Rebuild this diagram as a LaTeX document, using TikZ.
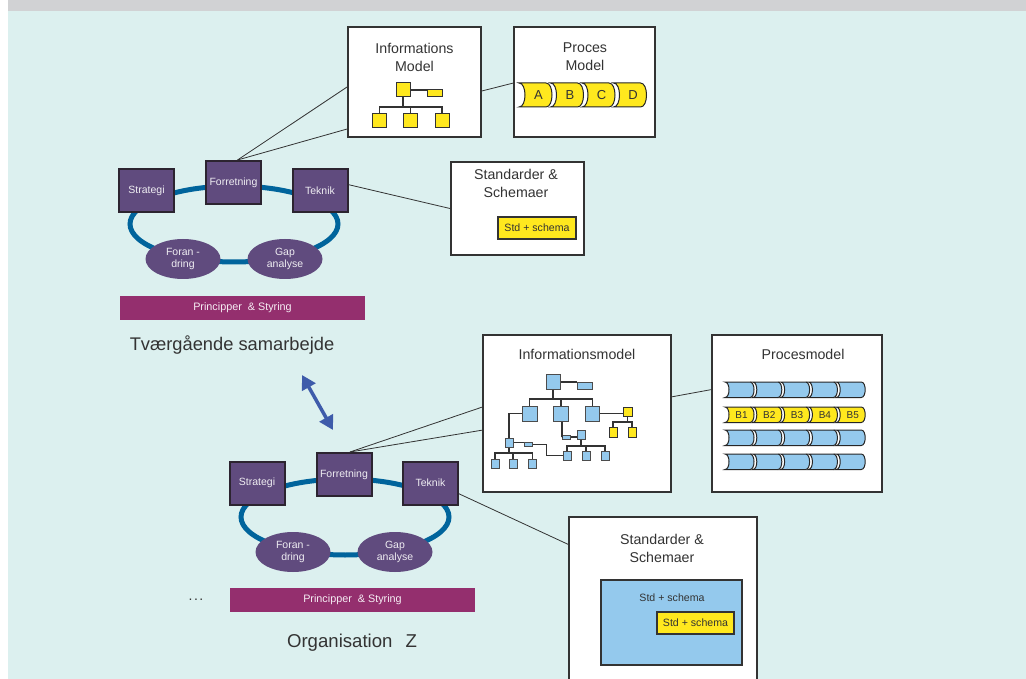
\documentclass[tikz,border=0pt]{standalone}
\usepackage{fontspec}
\setmainfont{Liberation Sans}
\usetikzlibrary{arrows.meta,calc,shapes.geometric}

\definecolor{bgcyan}{HTML}{DCF0EF}
\definecolor{topgray}{HTML}{D1D2D4}
\definecolor{plum}{HTML}{604B7E}
\definecolor{plumedge}{HTML}{2C2430}
\definecolor{ringblue}{HTML}{00649C}
\definecolor{barmag}{HTML}{942F6E}
\definecolor{ylw}{HTML}{FFE81E}
\definecolor{lblue}{HTML}{94C9ED}
\definecolor{arrblue}{HTML}{3E5BAA}
\definecolor{ink}{HTML}{333333}

% one barrel-shaped process step: #1 left x, #2 top y, #3 width, #4 height, #5 curve depth, #6 fill
\newcommand\procseg[6]{%
  \path[draw=black!85, line width=1pt, fill=#6]
    (#1,#2) -- ({#1+#3-#5},#2)
    .. controls ({#1+#3+#5/3},#2) and ({#1+#3+#5/3},{#2+#4}) .. ({#1+#3-#5},{#2+#4})
    -- (#1,{#2+#4})
    .. controls ({#1+4*#5/3},{#2+#4}) and ({#1+4*#5/3},#2) .. (#1,#2) -- cycle;}

\tikzset{
  panel/.style={draw=ink, line width=2pt, fill=white, inner sep=0pt},
  title/.style={text=ink, align=center, font=\fontsize{14.2}{18}\selectfont},
  role/.style={draw=plumedge, fill=plum, line width=2pt, text=white!90!plum,
    minimum width=55pt, minimum height=43pt, inner sep=0pt,
    font=\fontsize{10.5}{12}\selectfont},
  phase/.style={ellipse, fill=plum, text=white!90!plum, minimum width=75pt,
    minimum height=40pt, inner sep=0pt, align=center,
    font=\fontsize{10.5}{12.5}\selectfont},
  ring/.style={ellipse, draw=ringblue, line width=5pt, minimum width=208pt,
    minimum height=76pt, inner sep=0pt},
  govbar/.style={fill=barmag, text=white!92!barmag, minimum width=245pt,
    minimum height=24pt, inner sep=0pt, font=\fontsize{10.8}{12}\selectfont},
  conn/.style={draw=ink, line width=0.8pt},
  link/.style={draw=ink, line width=1.1pt},
  ysq/.style={draw=ink, fill=ylw, line width=1pt, inner sep=0pt},
  bsq/.style={draw=black!70, fill=lblue, line width=1pt, inner sep=0pt},
  chip/.style={draw=ink, fill=ylw, line width=1.2pt, inner sep=0pt,
    text=ink, font=\fontsize{10.6}{12}\selectfont},
  seglabel/.style={text=ink, inner sep=0pt},
}

\begin{document}
\begin{tikzpicture}[x=1pt, y=-1pt]
\useasboundingbox (0,0) rectangle (1026,679);
\clip (0,0) rectangle (1026,679);

% backdrop
\fill[white] (0,0) rectangle (1026,679);
\fill[bgcyan] (8,11) rectangle (1026,679);
\fill[topgray] (8,0) rectangle (1026,11);

% ---------- upper organisation ----------
\node[ring] (ring1) at (234,224) {};
\node[role] (strat1) at (146.5,190.5) {Strategi};
\node[role] (forr1) at (233.5,182.5) {Forretning};
\node[role] (tek1) at (320,190.5) {Teknik};
\node[phase] (foran1) at (183,259) {Foran -\\dring};
\node[phase] (gap1) at (285,259) {Gap\\analyse};
\node[govbar] (bar1) at (242.5,308) {Principper ~\& Styring};
\node[text=ink, font=\fontsize{18.3}{22}\selectfont] (org1) at (232,345) {Tværgående samarbejde};

% information model (upper)
\node[panel, minimum width=133pt, minimum height=110pt] (infoA) at (414.5,82) {};
\node[title] (infoAt) at (414.5,57) {Informations\\Model};
\node[ysq, minimum width=14pt, minimum height=14pt] (t0) at (403,90) {};
\node[ysq, minimum width=15pt, minimum height=7pt] (t0r) at (434.5,93.5) {};
\node[ysq, minimum width=14pt, minimum height=14pt] (t1) at (379.5,121) {};
\node[ysq, minimum width=14pt, minimum height=14pt] (t2) at (410.5,121) {};
\node[ysq, minimum width=14pt, minimum height=14pt] (t3) at (442,121) {};
\coordinate (busA) at (0,107);
\draw[link] (t0.east) -- (t0.east -| t0r.west);
\draw[link] (t0.south) -- (t0.south |- busA);
\draw[link] (t1.north) -- (t1.north |- busA) -| (t3.north);
\draw[link] (t2.north) -- (t2.north |- busA);

% process model (upper)
\node[panel, minimum width=141pt, minimum height=110pt] (procA) at (584.5,82) {};
\node[title] (procAt) at (585,57) {Proces\\Model};
\foreach \lbl [count=\i from 0] in {A,B,C,D}{
  \pgfmathsetmacro\xa{519+31.5*\i}
  \procseg{\xa}{83}{33}{24}{6}{ylw}
  \node[seglabel, font=\fontsize{13}{15}\selectfont] (pa\lbl) at (\xa+19.5,95) {\lbl};
}

% standards (upper)
\node[panel, minimum width=133pt, minimum height=93pt] (stdA) at (517.5,208.5) {};
\node[title] (stdAt) at (516,183.5) {Standarder \&\\Schemaer};
\node[chip, minimum width=78pt, minimum height=22pt] (chipA) at (537,228) {Std + schema};

% connectors (upper)
\draw[conn] ($(forr1.north)+(4,0)$) -- ($(infoA.north west)!0.545!(infoA.south west)$);
\draw[conn] ($(forr1.north)+(4,0)$) -- ($(infoA.north west)!0.92!(infoA.south west)$);
\draw[conn] ($(infoA.north east)!0.58!(infoA.south east)$) -- ($(procA.north west)!0.51!(procA.south west)$);
\draw[conn] ($(tek1.north east)!0.37!(tek1.south east)$) -- (stdA.west);

% link between the two organisations
\coordinate (arrA) at (302,375);
\coordinate (arrB) at (333,430);
\draw[arrblue, line width=3.5pt, {Triangle[length=14pt,width=15pt]}-{Triangle[length=14pt,width=15pt]}] (arrA) -- (arrB);

% ---------- lower organisation ----------
\node[ring] (ring2) at (345,517) {};
\node[role] (strat2) at (257,483) {Strategi};
\node[role] (forr2) at (344,474.5) {Forretning};
\node[role] (tek2) at (430.5,483) {Teknik};
\node[phase] (foran2) at (293,552) {Foran -\\dring};
\node[phase] (gap2) at (395,552) {Gap\\analyse};
\node[govbar] (bar2) at (352.5,600) {Principper ~\& Styring};
\node[text=ink, font=\fontsize{14}{16}\selectfont] (more) at (196,600) {.\hspace{1.5pt}.\hspace{1.5pt}.};
\node[text=ink, font=\fontsize{18.6}{22}\selectfont] (org2) at (352,643) {Organisation\hspace{0.7em}Z};

% information model (lower)
\node[panel, minimum width=188pt, minimum height=157pt] (infoB) at (577,413.5) {};
\node[title] (infoBt) at (577,354) {Informationsmodel};
\node[bsq, minimum width=14pt, minimum height=15pt] (b0) at (553,381.5) {};
\node[bsq, minimum width=15pt, minimum height=7pt] (b0r) at (584.5,386) {};
\node[bsq, minimum width=15pt, minimum height=15pt] (b1) at (529.5,413.5) {};
\node[bsq, minimum width=15pt, minimum height=15pt] (b2) at (561,413.5) {};
\node[bsq, minimum width=14pt, minimum height=15pt] (b3) at (592.5,413.5) {};
\node[ysq, minimum width=9pt, minimum height=9pt] (y0) at (627.5,411.5) {};
\node[ysq, minimum width=8pt, minimum height=10pt] (y1) at (613,432) {};
\node[ysq, minimum width=8pt, minimum height=10pt] (y2) at (632,432) {};
\node[bsq, minimum width=8pt, minimum height=9pt] (c0) at (509,442.5) {};
\node[bsq, minimum width=8pt, minimum height=4pt] (c1) at (566,437) {};
\node[bsq, minimum width=8pt, minimum height=9pt] (c2) at (581,434.5) {};
\node[bsq, minimum width=8pt, minimum height=4pt] (c3) at (528,444.5) {};
\node[bsq, minimum width=8pt, minimum height=9pt] (d1) at (567,455.5) {};
\node[bsq, minimum width=8pt, minimum height=9pt] (d2) at (586,455.5) {};
\node[bsq, minimum width=8pt, minimum height=9pt] (d3) at (605,455.5) {};
\node[bsq, minimum width=8pt, minimum height=9pt] (e1) at (495,463.5) {};
\node[bsq, minimum width=8pt, minimum height=9pt] (e2) at (513,463.5) {};
\node[bsq, minimum width=8pt, minimum height=9pt] (e3) at (532.5,463.5) {};
\coordinate (busB) at (0,399);
\coordinate (busY) at (0,422);
\coordinate (busD) at (0,446);
\coordinate (busE) at (0,453);
\draw[link] (b0.east |- b0r.north west) -- (b0r.north west);
\draw[link] (b0.south) -- (b0.south |- busB);
\draw[link] (b1.north) -- (b1.north |- busB) -| (b3.north);
\draw[link] (b2.north) -- (b2.north |- busB);
\draw[link] (b3.east) -- (b3.east -| y0.west);
\draw[link] (y0.south) -- (y0.south |- busY);
\draw[link] (y1.north) -- (y1.north |- busY) -| (y2.north);
\draw[link] (b1.west) -| (c0.north);
\draw[link] ($(b2.south)+(1,0)$) |- (c1.west);
\draw[link] (c1.east) -- (c1.east -| c2.west);
\draw[link] (c2.south) -- (c2.south |- busD);
\draw[link] (d1.north) -- (d1.north |- busD) -| (d3.north);
\draw[link] (d2.north) -- (d2.north |- busD);
\draw[link] (c0.east) -- (c0.east -| c3.west);
\draw[link] (c3.east) -- ++(14,0) |- (d1.west);
\draw[link] (c0.south) -- (c0.south |- busE);
\draw[link] (e1.north) -- (e1.north |- busE) -| (e3.north);
\draw[link] (e2.north) -- (e2.north |- busE);

% process model (lower)
\node[panel, minimum width=170pt, minimum height=157pt] (procB) at (797,413.5) {};
\node[title] (procBt) at (803,354) {Procesmodel};
\foreach \row/\ty in {1/382,2/407,3/430,4/454}{
  \foreach \i in {0,...,4}{
    \pgfmathsetmacro\xb{725+27.8*\i}
    \ifnum\row=2
      \procseg{\xb}{\ty}{29}{15.5}{4}{ylw}
    \else
      \procseg{\xb}{\ty}{29}{15.5}{4}{lblue}
    \fi
  }
}
\foreach \i in {1,...,5}{
  \node[seglabel, font=\fontsize{10}{11}\selectfont] (pb\i) at (725+27.8*\i-27.8+16.5,414.75) {B\i};
}

% standards (lower)
\node[panel, minimum width=188pt, minimum height=183pt] (stdB) at (663,608.5) {};
\node[title] (stdBt) at (662,548) {Standarder \&\\Schemaer};
\node[draw=ink, fill=lblue, line width=1.2pt, minimum width=141pt, minimum height=85pt, inner sep=0pt] (schemaB) at (671.5,622.5) {};
\node[text=ink, font=\fontsize{10.6}{12}\selectfont] (schemaBt) at (672,598) {Std + schema};
\node[chip, minimum width=77pt, minimum height=22pt] (chipB) at (695.5,623) {Std + schema};

% connectors (lower)
\draw[conn] ($(forr2.north)+(6,0)$) -- ($(infoB.north west)!0.46!(infoB.south west)$);
\draw[conn] ($(forr2.north)+(6,0)$) -- ($(infoB.north west)!0.605!(infoB.south west)$);
\draw[conn] ($(infoB.north east)!0.395!(infoB.south east)$) -- ($(procB.north west)!0.35!(procB.south west)$);
\draw[conn] ($(tek2.north east)!0.74!(tek2.south east)$) -- ($(stdB.north west)!0.153!(stdB.south west)$);
\end{tikzpicture}
\end{document}
